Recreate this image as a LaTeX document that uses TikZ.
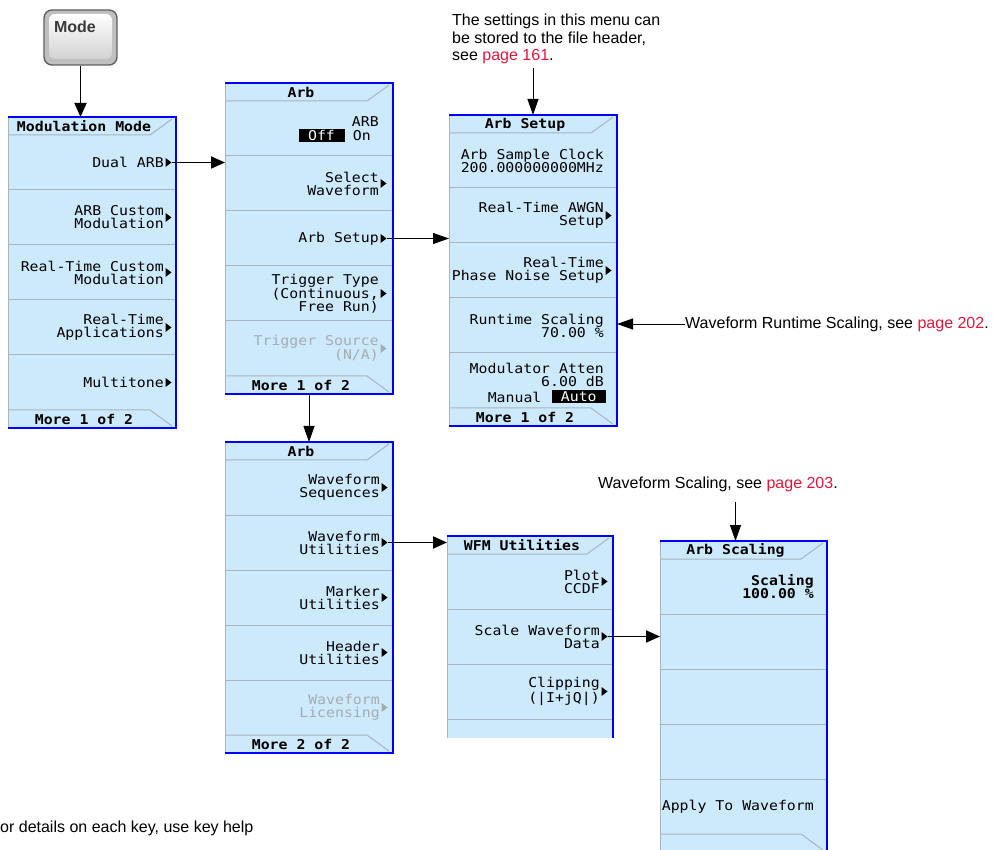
\documentclass[tikz,border=0pt]{standalone}
\usepackage{fontspec}
\setmainfont{Liberation Sans}
\newfontfamily\menufont[FakeStretch=1.1]{DejaVu Sans Mono}
\usetikzlibrary{positioning,arrows.meta}

\definecolor{menublue}{RGB}{204,234,252}
\definecolor{menuline}{RGB}{0,0,255}
\definecolor{keysep}{RGB}{168,180,190}
\definecolor{keygray}{RGB}{165,172,178}
\definecolor{pagered}{RGB}{228,22,58}

\begin{document}
\begin{tikzpicture}[x=1pt, y=-1pt,
    menukey/.style={font=\menufont\fontsize{13.5}{13}\selectfont, align=right, anchor=east, inner sep=0pt},
    dimkey/.style={menukey, text=keygray},
    boldkey/.style={menukey, font=\menufont\bfseries\fontsize{13.5}{13}\selectfont},
    ttl/.style={font=\menufont\bfseries\fontsize{13.5}{13}\selectfont, inner sep=0pt},
    inv/.style={menukey, anchor=center, align=center, fill=black, text=white, minimum height=13pt},
    keysepline/.style={draw=keysep, line width=1pt},
    menuframe/.style={draw=menuline, line width=2.5pt, line join=miter},
    notetext/.style={font=\fontsize{16}{17.5}\selectfont, align=left, inner sep=0pt},
    arr/.style={-{Triangle[length=14pt,width=12pt]}, line width=1.8pt},
    thinarr/.style={-{Triangle[length=16pt,width=11pt]}, line width=0.9pt},
    submark/.pic={\fill (0,-4.5) -- (6,0) -- (0,4.5) -- cycle;}]

  \useasboundingbox (0,0) rectangle (997,850);

  % Mode hardkey
  \node[draw=gray!75!black, line width=1.4pt, rounded corners=8pt, fill=gray!50,
        minimum width=73pt, minimum height=55pt] (modebtn) at (80.5,37.5) {};
  \node[rounded corners=6pt, top color=white, bottom color=gray!35,
        minimum width=63pt, minimum height=45pt] (modeface) at (80.5,36.5) {};
  \node[font=\bfseries\fontsize{16}{16}\selectfont, text=gray!45!black] (modelabel) at (75,27) {Mode};

  % menu frames
  \foreach \xa/\ya/\xb/\yb/\nm/\ft/\ttl/\ftr in {
      8/117/176/428/modmenu/1/Modulation Mode/More 1 of 2,
      225/83/393/394/arbmenu/1/Arb/More 1 of 2,
      449/115/617/426/setupmenu/1/Arb Setup/More 1 of 2,
      225/442/393/753/arbmenuB/1/Arb/More 2 of 2,
      447/536/613/738/wfmmenu/0/WFM Utilities/\relax,
      660/541/827/852/scalemenu/1/Arb Scaling/\relax} {
    \fill[menublue] (\xa,\ya) rectangle (\xb,\yb);
    \begin{scope}
      \clip (\xa,\ya) rectangle (\xb,\yb);
      \foreach \k in {1,...,4}
        \draw[keysepline] (\xa,\ya+18+55*\k) -- (\xb,\ya+18+55*\k);
    \end{scope}
    \draw[keysepline] (\xa,\ya+18) -- (\xb-26,\ya+18) -- (\xb-4,\ya+2);
    \draw[keysepline] (\xa,\ya) -- (\xa,\yb);
    \ifnum\ft=1
      \draw[keysepline] (\xa,\yb-18) -- (\xb-26,\yb-18) -- (\xb-4,\yb-2);
      \draw[menuframe] (\xa,\ya) -- (\xb,\ya) -- (\xb,\yb) -- (\xa,\yb);
    \else
      \draw[menuframe] (\xa,\ya) -- (\xb,\ya) -- (\xb,\yb);
    \fi
    \node[ttl] (\nm-title) at ({(\xa+\xb)/2-8},\ya+9.5) {\ttl};
    \node[ttl] (\nm-more) at ({(\xa+\xb)/2-8},\yb-8.5) {\ftr};
    \coordinate (\nm-n) at ({(\xa+\xb)/2},\ya);
    \coordinate (\nm-s) at ({(\xa+\xb)/2},\yb);
    \coordinate (\nm-w) at (\xa,\ya);
    \coordinate (\nm-e) at (\xb,\ya);
  }

  % Modulation Mode
  \node[menukey] (dual) at (164,162.5) {Dual ARB};
  \node[menukey] (arbcustom) at (164,217.5) {ARB Custom\\Modulation};
  \node[menukey] (rtcustom) at (164,272.5) {Real-Time Custom\\Modulation};
  \node[menukey] (rtapps) at (164,327.5) {Real-Time\\Applications};
  \node[menukey] (multitone) at (164,382.5) {Multitone};

  % Arb
  \node[menukey] (arbstate) at (379,122) {ARB};
  \node[menukey] (arbon) at (371,135.5) {On};
  \node[inv, minimum width=46pt, left=8pt of arbon] (arboff) {Off};
  \node[menukey] (select) at (379,183.5) {Select\\Waveform};
  \node[menukey] (arbsetup) at (379,238.5) {Arb Setup};
  \node[menukey] (trigtype) at (379,293.5) {Trigger Type\\(Continuous,\\Free Run)};
  \node[dimkey] (trigsrc) at (379,348.5) {Trigger Source\\(N/A)};

  % Arb Setup
  \node[menukey] (clock) at (604,160.5) {Arb Sample Clock\\200.000000000MHz};
  \node[menukey] (awgn) at (604,215.5) {Real-Time AWGN\\Setup};
  \node[menukey] (phasenoise) at (604,270.5) {Real-Time\\Phase Noise Setup};
  \node[menukey] (runtime) at (604,325.5) {Runtime Scaling\\70.00 \%};
  \node[menukey] (atten) at (604,375) {Modulator Atten\\6.00 dB};
  \node[inv, minimum width=54pt, anchor=east] (auto) at (606,397) {Auto};
  \node[menukey, left=10pt of auto] (manual) {Manual};

  % Arb, page 2
  \node[menukey] (sequences) at (380,487.5) {Waveform\\Sequences};
  \node[menukey] (wfmutil) at (380,542.5) {Waveform\\Utilities};
  \node[menukey] (markerutil) at (380,597.5) {Marker\\Utilities};
  \node[menukey] (headerutil) at (380,652.5) {Header\\Utilities};
  \node[dimkey] (licensing) at (380,707.5) {Waveform\\Licensing};

  % WFM Utilities
  \node[menukey] (ccdf) at (600,581.5) {Plot\\CCDF};
  \node[menukey] (scalewfm) at (600,636.5) {Scale Waveform\\Data};
  \node[menukey] (clipping) at (600,691.5) {Clipping\\(|I+jQ|)};

  % Arb Scaling
  \node[boldkey] (scaling) at (814,586.5) {Scaling\\100.00 \%};
  \node[menukey] (apply) at (814,806.5) {Apply To Waveform};

  % submenu marks
  \foreach \k in {dual,arbcustom,rtcustom,rtapps,multitone,select,arbsetup,trigtype,awgn,phasenoise,
                  sequences,wfmutil,markerutil,headerutil,ccdf,scalewfm,clipping}
    \pic at ([xshift=1.5pt]\k.east) {submark};
  \foreach \k in {trigsrc,licensing}
    \pic[color=keygray] at ([xshift=1.5pt]\k.east) {submark};

  % notes
  \node[notetext, anchor=north west] (setupnote) at (452,14)
    {The settings in this menu can\\be stored to the file header,\\see \textcolor{pagered}{page 161}.};
  \node[notetext, anchor=west] (rtnote) at (685,324)
    {Waveform Runtime Scaling, see \textcolor{pagered}{page 202}.};
  \node[notetext, anchor=west] (scalenote) at (598,484)
    {Waveform Scaling, see \textcolor{pagered}{page 203}.};
  \node[notetext, anchor=west] (keyhelp) at (0,828) {or details on each key, use key help};

  % arrows
  \draw[arr] (modebtn.south) -- (modebtn.south |- modmenu-n);
  \draw[arr] ([xshift=8pt]dual.east) -- (dual.east -| arbmenu-w);
  \draw[thinarr] ([xshift=8pt]arbsetup.east) -- (arbsetup.east -| setupmenu-w);
  \draw[thinarr, shorten <=4pt] (setupmenu-n |- setupnote.south) -- (setupmenu-n);
  \draw[thinarr] (rtnote.west) -- (rtnote.west -| setupmenu-e);
  \draw[thinarr] (arbmenu-s) -- (arbmenuB-n);
  \draw[arr] ([xshift=8pt]wfmutil.east) -- (wfmutil.east -| wfmmenu-w);
  \draw[arr] ([xshift=8pt]scalewfm.east) -- (scalewfm.east -| scalemenu-w);
  \draw[thinarr, shorten <=10pt] (scalemenu-title |- scalenote.south) -- (scalemenu-title |- scalemenu-n);

\end{tikzpicture}
\end{document}
